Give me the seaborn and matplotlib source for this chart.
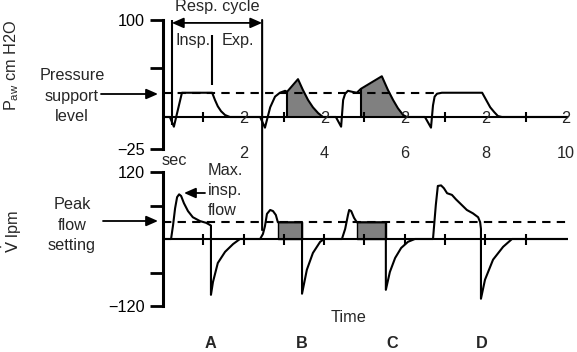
import numpy as np
import seaborn as sns
import matplotlib.pyplot as plt
from matplotlib.patches import ConnectionPatch
from matplotlib.transforms import blended_transform_factory

# airway pressure trace: time (sec) / pressure (cm H2O)
pressure_t = [0.0, 0.17, 0.27, 0.47, 1.22, 1.29, 1.36, 1.44, 1.54, 1.66,
              2.41, 2.53, 2.66, 2.78, 2.90, 3.03, 3.08, 3.35, 3.47, 3.60,
              3.72, 3.85, 3.97, 4.29, 4.42, 4.47, 4.52, 4.59, 4.69, 4.81,
              4.91, 5.43, 5.58, 5.71, 5.83, 5.96, 6.05, 6.50, 6.65, 6.70,
              6.74, 6.80, 6.92, 7.92, 8.02, 8.12, 8.22, 8.31, 8.41, 10.05]
pressure_v = [0, 0, -10, 25, 25, 17.5, 11, 6, 2, 0,
              0, -11, 10, 21, 25, 27, 26, 39, 28, 17.5,
              10, 4, 0, 0, -10, 17.5, 24, 27, 26, 25,
              29, 42, 28, 17.5, 9, 2, 0, 0, -11, 12,
              21, 24, 25, 25, 17.5, 10, 5, 1, 0, 0]

# flow trace: time (sec) / flow (lpm)
flow_t = [0.0, 0.20, 0.25, 0.30, 0.35, 0.40, 0.45, 0.52, 0.62, 0.74,
          0.92, 1.07, 1.17, 1.19, 1.19, 1.24, 1.36, 1.54, 1.74, 1.91,
          2.41, 2.48, 2.53, 2.58, 2.66, 2.73, 2.80, 2.85, 3.45, 3.45,
          3.57, 3.72, 3.90, 4.00, 4.44, 4.52, 4.59, 4.62, 4.67, 4.74,
          4.81, 5.53, 5.53, 5.63, 5.76, 5.91, 6.08, 6.25, 6.70, 6.77,
          6.82, 6.90, 6.97, 7.05, 7.17, 7.27, 7.37, 7.54, 7.69, 7.82,
          7.87, 7.89, 7.89, 7.99, 8.19, 8.44, 8.66, 10.05]
flow_v = [0, 0, 25, 55, 75, 80, 77, 64, 50, 39,
          32, 29, 25, 24, -100, -77, -43, -23, -9, 0,
          0, 9, 23, 45, 52, 50, 43, 30, 30, -98,
          -55, -25, -5, 0, 0, 18, 43, 52, 50, 38,
          30, 30, -91, -59, -34, -16, -5, 0, 0, 61,
          95, 96, 91, 82, 79, 71, 64, 52, 46, 39,
          30, 18, -107, -73, -37, -14, 0, 0]

pressure_support_level = 25
pressure_support_end = 6.75
peak_flow_setting = 30

pressure_fill_windows = [(3.08, 3.97), (4.91, 6.05)]
flow_fill_windows = [(2.85, 3.45), (4.81, 5.53)]

resp_cycle = (0.22, 2.46)
insp_end = 1.22

time_ticks = [2, 4, 6, 8, 10]
time_tick_labels = ['2', '4', '6', '8', '10']
odd_marks = [1, 3, 5, 7, 9]
second_marks = [1, 2, 3, 4, 5, 6, 7, 8, 9]
pressure_ticks = [-33, 50, 100]
pressure_tick_labels = ['\u221225', '', '100']
flow_ticks = [-120, -60, 60, 120]
flow_tick_labels = ['\u2212120', '', '', '120']
breath_labels = ['A', 'B', 'C', 'D']
breath_label_t = [1.17, 3.45, 5.68, 7.92]

sns.set_theme(style="white")
plt.rcParams['font.family'] = ['Liberation Sans', 'DejaVu Sans']
plt.rcParams['mathtext.fontset'] = 'custom'
plt.rcParams['mathtext.rm'] = 'Liberation Sans'
plt.rcParams['mathtext.it'] = 'Liberation Sans:italic'

W, H = 577, 352
FS = 11.7
LW = 1.5
fig = plt.figure(figsize=(W / 100, H / 100), dpi=100)


def box(left, top, right, bottom):
    return [left / W, 1 - bottom / H, (right - left) / W, (bottom - top) / H]


def fx(x):
    return x / W


def fy(y):
    return 1 - y / H


ax_p = fig.add_axes(box(163, 20, 568, 149))
ax_f = fig.add_axes(box(163, 172, 568, 306))

for ax in (ax_p, ax_f):
    ax.set_facecolor('none')
    for s in ['top', 'right', 'bottom']:
        ax.spines[s].set_visible(False)
    ax.spines['left'].set_linewidth(2.2)
    ax.spines['left'].set_color('black')
    ax.tick_params(axis='y', direction='out', length=9.4, width=2, pad=3.5,
                   labelsize=FS, colors='black', left=True)
    ax.set_xticks([])
    ax.set_xlim(0, 10.05)
    ax.axhline(0, color='black', lw=LW, zorder=2)

# traces
sns.lineplot(x=pressure_t, y=pressure_v, ax=ax_p, sort=False, estimator=None,
             color='black', lw=LW, zorder=3)
sns.lineplot(x=flow_t, y=flow_v, ax=ax_f, sort=False, estimator=None,
             color='black', lw=LW, zorder=3)

ax_p.set_ylim(-33, 100)
ax_f.set_ylim(-120, 120)
ax_p.set_yticks(pressure_ticks, pressure_tick_labels)
ax_f.set_yticks(flow_ticks, flow_tick_labels)
for ax in (ax_p, ax_f):
    ax.set_xlabel('')
    ax.set_ylabel('')

# shaded regions
pt = np.array(pressure_t)
pv = np.array(pressure_v)
for a, b in pressure_fill_windows:
    m = (pt >= a) & (pt <= b)
    ax_p.fill_between(pt[m], 0, pv[m], color='#808080', lw=0, zorder=1)
    ax_p.vlines(a, 0, pv[m][0], color='black', lw=LW, zorder=3)
for a, b in flow_fill_windows:
    ax_f.fill_between([a, b], 0, peak_flow_setting, facecolor='#808080',
                      edgecolor='black', lw=1, zorder=1)

# set levels
ax_p.hlines(pressure_support_level, 0, pressure_support_end, colors='black',
            lw=LW, linestyles=(0, (4, 3)), zorder=2)
ax_f.hlines(peak_flow_setting, 0, 10.05, colors='black', lw=LW,
            linestyles=(0, (4, 3)), zorder=2)

# marks on the time lines
ax_p.vlines(odd_marks, -5, 5, colors='black', lw=LW)
for t in time_ticks:
    ax_p.text(t, -6.2, '2', ha='center', va='baseline', fontsize=FS)
ax_f.vlines(second_marks, -11, 9, colors='black', lw=LW)

# time axis labels between the panels
tr = blended_transform_factory(ax_p.transData, fig.transFigure)
for t, lab in zip(time_ticks, time_tick_labels):
    ax_p.text(t, fy(158), lab, transform=tr, ha='center', va='baseline', fontsize=FS)
ax_p.text(0.27, fy(165), 'sec', transform=tr, ha='center', va='baseline', fontsize=FS)

# respiratory cycle annotation
ax_p.vlines(resp_cycle[0], -8, 100, colors='black', lw=LW, clip_on=False)
con = ConnectionPatch(xyA=(resp_cycle[1], 100), coordsA=ax_p.transData,
                      xyB=(resp_cycle[1], 16), coordsB=ax_f.transData,
                      color='black', lw=LW)
fig.add_artist(con)
ax_p.annotate('', xy=(resp_cycle[1], 97), xytext=(resp_cycle[0], 97),
              arrowprops=dict(arrowstyle='<|-|>,head_length=0.5,head_width=0.22',
                              color='black', lw=1.3, mutation_scale=14,
                              shrinkA=0, shrinkB=0), annotation_clip=False)
fig.text(fx(217), fy(11), 'Resp. cycle', ha='center', va='baseline', fontsize=FS)
ax_p.vlines(insp_end, 33, 85, colors='black', lw=LW)
ax_p.text(0.74, 74, 'Insp.', ha='center', va='baseline', fontsize=FS)
ax_p.text(1.85, 74, 'Exp.', ha='center', va='baseline', fontsize=FS)

# side labels
fig.text(fx(12), fy(65), 'P$_{\\mathrm{aw}}$ cm H2O', rotation=90,
         ha='center', va='center', fontsize=FS)
fig.text(fx(12), fy(232), '$\\dot{\\mathsf{V}}$ lpm', rotation=90,
         ha='center', va='center', fontsize=FS, math_fontfamily='dejavusans')

arrow_kw = dict(arrowstyle='-|>,head_length=0.5,head_width=0.22', color='black',
                lw=1.3, mutation_scale=14, shrinkA=0, shrinkB=0)


def fig_arrow(x0, x1, y):
    ax_p.annotate('', xy=(fx(x1), fy(y)), xytext=(fx(x0), fy(y)),
                  xycoords='figure fraction', textcoords='figure fraction',
                  arrowprops=arrow_kw, annotation_clip=False)


for line, yb in zip(['Pressure', 'support', 'level'], [80, 101, 121]):
    fig.text(fx(72), fy(yb), line, ha='center', va='baseline', fontsize=FS)
fig_arrow(101, 158, 94)
for line, yb in zip(['Peak', 'flow', 'setting'], [209, 230, 250]):
    fig.text(fx(72), fy(yb), line, ha='center', va='baseline', fontsize=FS)
fig_arrow(103, 158, 221)
for line, yb in zip(['Max.', 'insp.', 'flow'], [175, 195, 215]):
    fig.text(fx(208), fy(yb), line, ha='left', va='baseline', fontsize=FS)
fig_arrow(205, 184, 193)

fig.text(fx(349), fy(322), 'Time', ha='center', va='baseline', fontsize=FS)
trf = blended_transform_factory(ax_f.transData, fig.transFigure)
for t, lab in zip(breath_label_t, breath_labels):
    ax_f.text(t, fy(348.5), lab, transform=trf, ha='center', va='baseline',
              fontsize=FS, fontweight='bold')

fig.savefig('out.png', dpi=100, facecolor='white')
plt.close(fig)
